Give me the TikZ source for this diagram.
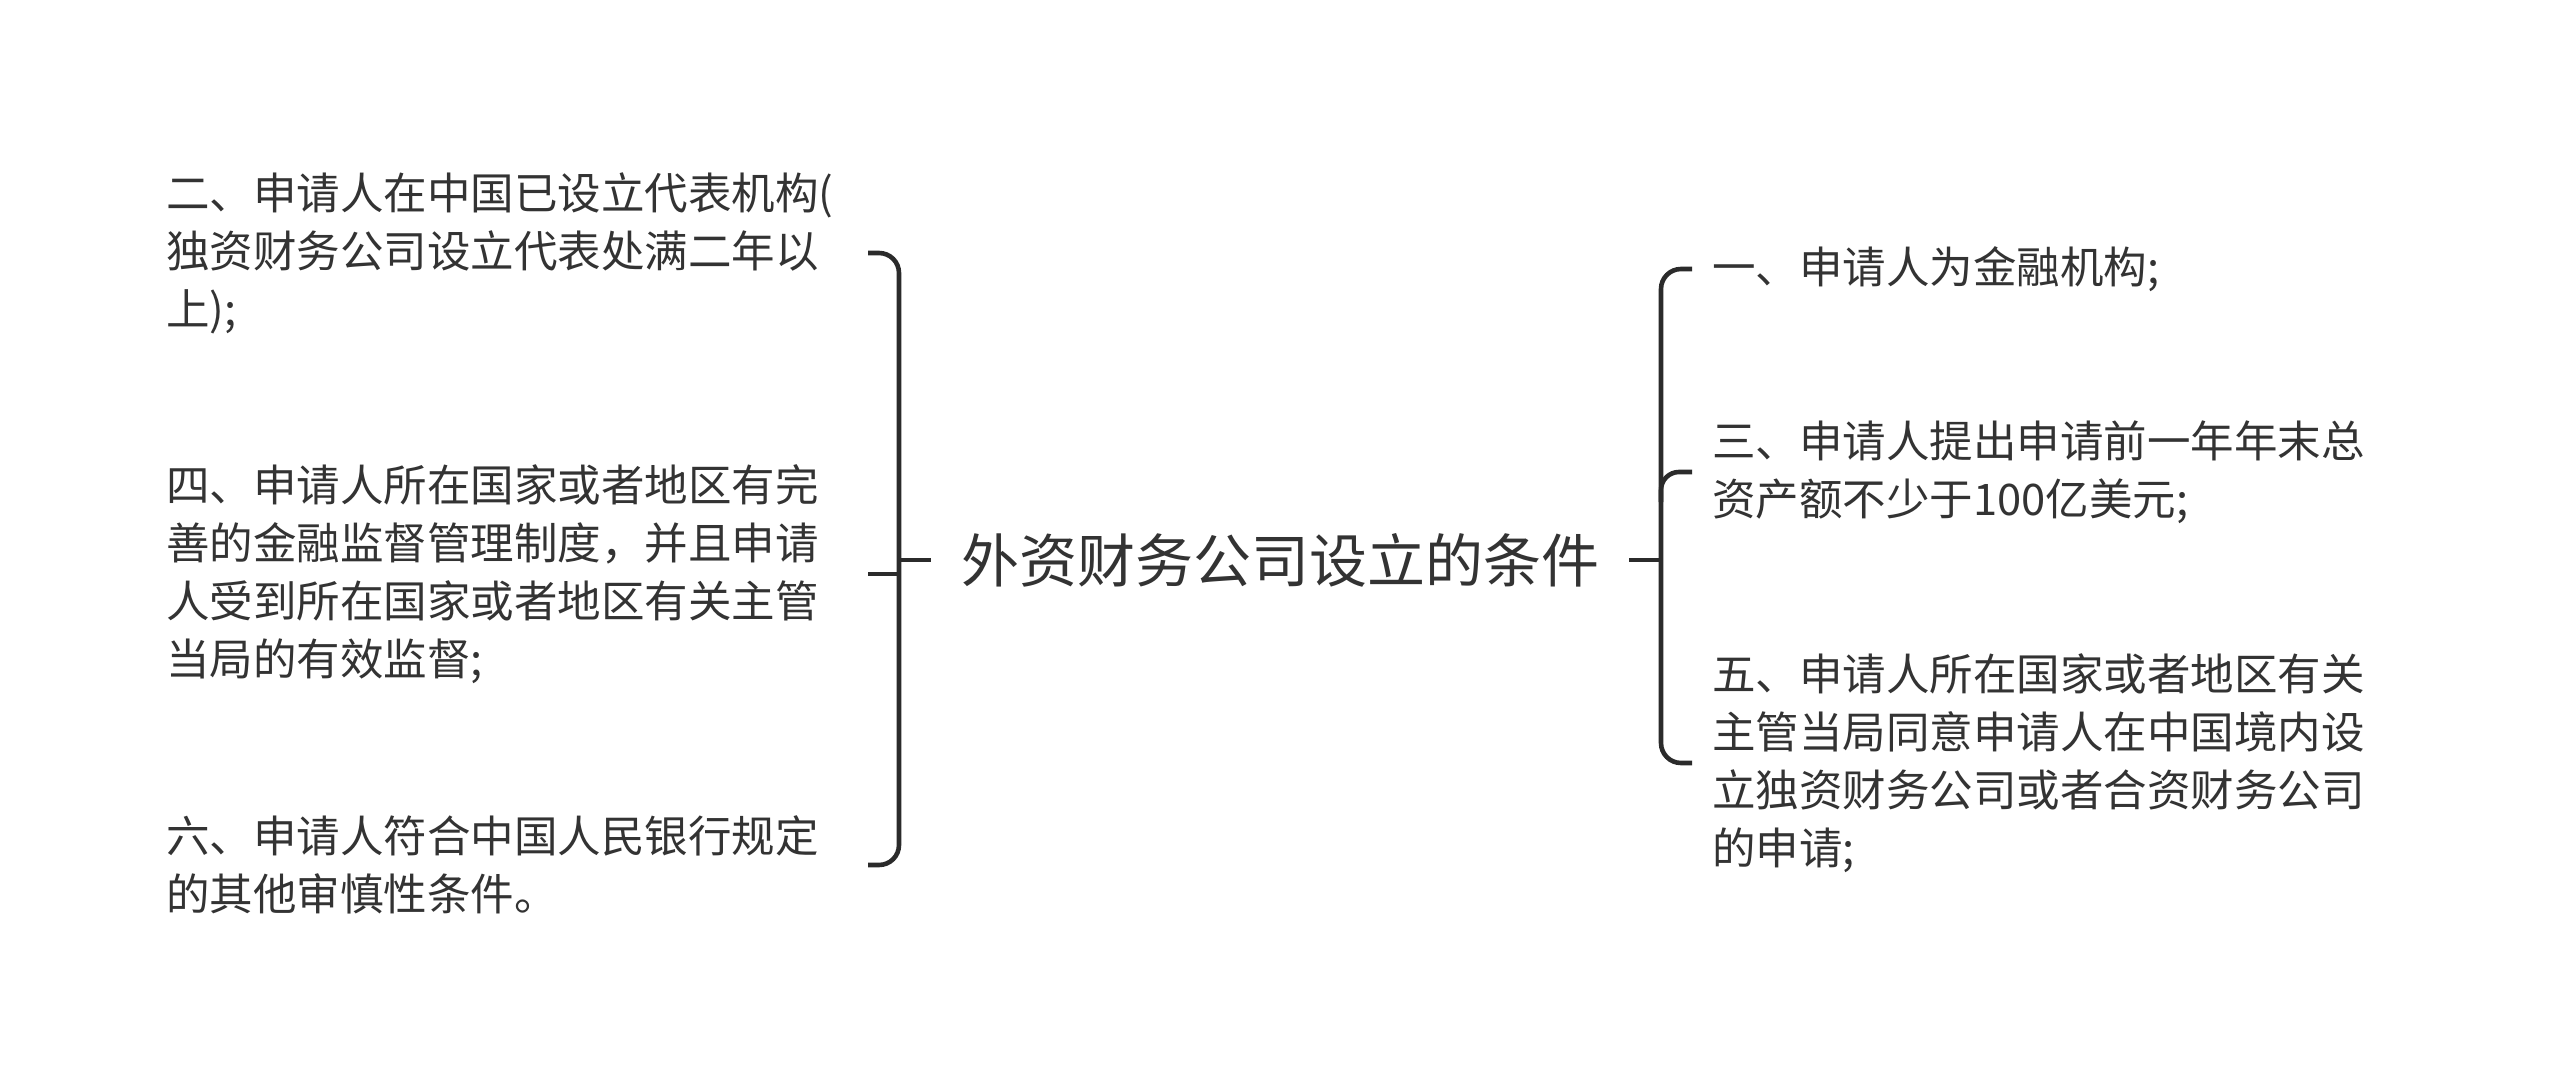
\documentclass[tikz,border=0pt]{standalone}
\usepackage{fontspec}
\newfontfamily\cjk{Noto Sans CJK SC}
\definecolor{txt}{HTML}{333333}
\definecolor{ln}{HTML}{2B2B2B}
\tikzset{
  br/.style={draw=ln, line width=4.6pt, line cap=butt},
  item/.style={inner sep=0pt, align=left, text=txt, font=\cjk\fontsize{43.5}{58}\selectfont},
  rootnode/.style={inner xsep=30pt, inner ysep=0pt, text=txt, font=\cjk\fontsize{58}{70}\selectfont}
}
\begin{document}
\begin{tikzpicture}[x=1pt,y=-1pt]
\useasboundingbox[fill=white] (0,0) rectangle (2560,1091);
% root
\node[rootnode] (root) at (1280,560) {外资财务公司设立的条件};
% bracket coordinates
\coordinate (lv) at (899,560);
\coordinate (rv) at (1661,560);
\coordinate (L1) at (868,253);
\coordinate (L2) at (868,574);
\coordinate (L3) at (868,865);
\coordinate (R1) at (1692,269);
\coordinate (R2) at (1692,472);
\coordinate (R3) at (1692,763);
% left items
\node[item, anchor=west] (l1) at (166,253) {二、申请人在中国已设立代表机构(\\独资财务公司设立代表处满二年以\\上);};
\node[item, anchor=west] (l2) at (166,574) {四、申请人所在国家或者地区有完\\善的金融监督管理制度，并且申请\\人受到所在国家或者地区有关主管\\当局的有效监督;};
\node[item, anchor=west] (l3) at (166,865) {六、申请人符合中国人民银行规定\\的其他审慎性条件。};
% right items
\node[item, anchor=west] (r1) at (1712,269) {一、申请人为金融机构;};
\node[item, anchor=west] (r2) at (1712,472) {三、申请人提出申请前一年年末总\\资产额不少于100亿美元;};
\node[item, anchor=west] (r3) at (1712,763) {五、申请人所在国家或者地区有关\\主管当局同意申请人在中国境内设\\立独资财务公司或者合资财务公司\\的申请;};
% connectors
\draw[br] (root.west) -- (lv);
\draw[br] (root.east) -- (rv);
\draw[br, rounded corners=20pt] (L1) -- (L1 -| lv) -- (L3 -| lv) -- (L3);
\draw[br] (L2) -- (L2 -| lv);
\draw[br, rounded corners=20pt] (R1) -- (R1 -| rv) -- (R3 -| rv) -- (R3);
\draw[br, rounded corners=18pt] ([yshift=-30pt]R2 -| rv) -- (R2 -| rv) -- (R2);
\end{tikzpicture}
\end{document}
